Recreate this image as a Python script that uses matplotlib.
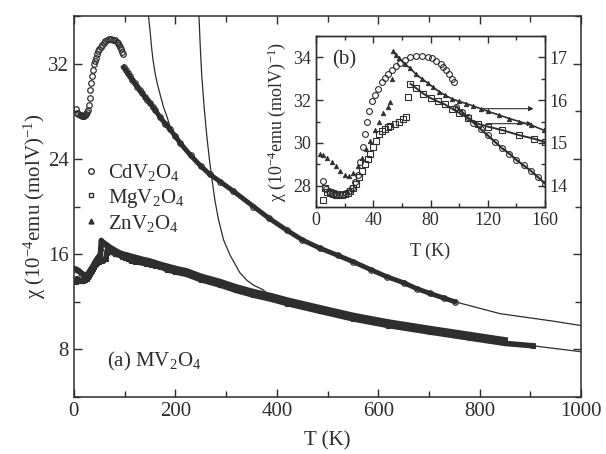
import numpy as np
import matplotlib
matplotlib.use("Agg")
import matplotlib.pyplot as plt
from matplotlib.lines import Line2D
from matplotlib.ticker import MultipleLocator

# ---- data (chi in 1e-4 emu/molV) ----
cd_T = [5, 7, 9, 11, 13, 15, 17, 19, 21, 23, 25, 27, 29, 31, 32.5, 34, 35.5, 37, 39, 41,
        43, 46, 48, 50, 53, 56, 59, 62, 66, 70, 74, 78, 81, 84, 87, 89, 91, 93, 95, 96.5,
        98, 102, 106, 110, 115, 120, 125, 130, 135, 140, 145, 150, 155, 160, 170, 180,
        189, 200, 210, 230, 250, 268, 288, 314, 354, 385, 420, 450, 485, 520, 551, 585,
        617, 650, 676, 702, 730, 751]
cd_chi = [28.2, 27.85, 27.75, 27.7, 27.65, 27.6, 27.6, 27.62, 27.65, 27.75, 27.9, 28.15,
          28.5, 29.1, 29.8, 30.4, 31.0, 31.5, 31.95, 32.25, 32.5, 32.85, 33.05, 33.2, 33.4,
          33.6, 33.75, 33.88, 34.0, 34.05, 34.05, 34.0, 33.95, 33.85, 33.7, 33.55, 33.4,
          33.2, 33.0, 32.85,
          31.7, 31.45, 31.2, 30.95, 30.65, 30.35, 30.05, 29.75, 29.5, 29.2, 28.95, 28.7,
          28.4, 28.1, 27.5, 26.95, 26.5, 25.9, 25.3, 24.3, 23.4, 22.7, 22.1, 21.3, 20.0,
          19.0, 18.0, 17.2, 16.5, 15.9, 15.35, 14.7, 14.1, 13.6, 13.1, 12.7, 12.3, 12.0]

mg_T = [5, 6, 8, 10, 12, 14, 16, 18, 20, 22, 24, 26, 28, 30, 32, 34, 36, 38, 40, 42, 44,
        46, 48, 50, 52, 55, 58, 61, 63, 64.5, 66, 70, 75, 80, 85, 90, 95, 100, 106, 113,
        120, 130, 142, 152, 160, 170, 183, 200, 222, 250, 288, 320, 354, 390, 420, 485,
        551, 620, 702, 780, 850, 905]
mg_chi = [13.67, 13.95, 13.85, 13.82, 13.8, 13.78, 13.78, 13.78, 13.8, 13.83, 13.88, 13.95,
          14.05, 14.2, 14.35, 14.5, 14.62, 14.75, 14.9, 15.05, 15.2, 15.27, 15.32, 15.36,
          15.4, 15.45, 15.5, 15.55, 15.6, 16.08, 16.38, 16.28, 16.15, 16.05, 15.97, 15.9,
          15.8, 15.7, 15.58, 15.45, 15.38, 15.3, 15.18, 15.1, 15.02, 14.95, 14.7, 14.5,
          14.3, 13.85, 13.4, 12.95, 12.55, 12.2, 11.85, 11.2, 10.55, 10.0, 9.45, 8.95,
          8.5, 8.3]

zn_T = [3, 5, 8, 11, 14, 17, 20, 23, 26, 29, 32, 35, 38, 41, 44, 47, 50, 52, 53, 54, 56,
        58, 62, 66, 70, 74, 78, 82, 86, 90, 95, 100, 105, 110, 115, 120, 128, 135, 142,
        150, 159, 170, 183, 200, 222, 250, 288, 320, 354, 390, 420, 485, 551, 620, 702,
        780, 850]
zn_chi = [14.75, 14.72, 14.65, 14.55, 14.45, 14.35, 14.25, 14.22, 14.3, 14.45, 14.65,
          14.85, 15.05, 15.3, 15.5, 15.7, 15.85, 15.95, 16.5, 17.15, 17.05, 16.98, 16.85,
          16.74, 16.6, 16.5, 16.4, 16.3, 16.2, 16.12, 16.03, 15.97, 15.92, 15.86, 15.8,
          15.74, 15.65, 15.57, 15.5, 15.42, 15.3, 15.15, 15.0, 14.8, 14.6, 14.15, 13.7,
          13.25, 12.85, 12.5, 12.15, 11.5, 10.85, 10.3, 9.75, 9.25, 8.8]

# thin fit curves
fit1_T = [147, 150, 153, 156, 160, 165, 170, 177, 183, 189, 200, 230, 268, 314, 354, 420,
          485, 551, 617, 676, 751, 840, 940, 1000]
fit1_chi = [36.0, 34.8, 33.4, 32.3, 31.2, 30.2, 29.4, 28.3, 27.6, 26.8, 25.9, 24.2, 22.6,
            21.2, 19.95, 18.0, 16.45, 15.3, 14.1, 13.1, 12.0, 11.0, 10.4, 10.0]
fit2_T = [246.5, 249, 252, 257, 262, 267, 271.5, 278, 285, 295, 308, 327, 341, 354, 373,
          386, 420, 485, 551, 620, 702, 800, 905, 1000]
fit2_chi = [36.0, 33.5, 31.0, 28.2, 25.9, 24.0, 22.5, 20.5, 18.9, 17.2, 15.9, 14.45, 13.8,
            13.4, 13.0, 12.5, 12.0, 11.3, 10.7, 10.1, 9.6, 8.9, 8.3, 7.8]

# arrows in inset (T start, T end, chi on left scale)
arrow_T0 = [115, 117]
arrow_T1 = [154, 153]
arrow_chi = [31.6, 30.9]

# ---- style ----
plt.rcParams["font.family"] = ["Liberation Serif", "DejaVu Serif"]
plt.rcParams["mathtext.fontset"] = "custom"
plt.rcParams["mathtext.rm"] = "Liberation Serif"
plt.rcParams["mathtext.it"] = "Liberation Serif:italic"
plt.rcParams["xtick.direction"] = "in"
plt.rcParams["ytick.direction"] = "in"
ink = "#2e2e2e"

cd_T = np.array(cd_T); cd_chi = np.array(cd_chi)
mg_T = np.array(mg_T); mg_chi = np.array(mg_chi)
zn_T = np.array(zn_T); zn_chi = np.array(zn_chi)
lo = cd_T < 97.5
mg_hi = mg_T >= 66
zn_hi = zn_T >= 54

fig = plt.figure(figsize=(6.06, 4.54), dpi=100)
ax = fig.add_axes([0.122, 0.1256, 0.837, 0.839])

# main panel
ax.plot(fit1_T, fit1_chi, color=ink, lw=0.9, zorder=3)
ax.plot(fit2_T, fit2_chi, color=ink, lw=0.9, zorder=3)
ax.plot(cd_T[lo], cd_chi[lo], ls="none", marker="o", ms=4, mfc="none", mec=ink, mew=0.9)
ax.plot(cd_T[~lo], cd_chi[~lo], color=ink, lw=3.5)
ax.plot(cd_T[~lo], cd_chi[~lo], ls="none", marker="o", ms=4, mfc="none", mec=ink, mew=0.8)
ax.plot(mg_T, mg_chi, color=ink, lw=4)
ax.plot(mg_T, mg_chi, ls="none", marker="s", ms=3.5, mfc="none", mec=ink, mew=0.8)
ax.plot(zn_T, zn_chi, color=ink, lw=4)
ax.plot(zn_T, zn_chi, ls="none", marker="^", ms=3.5, mfc="none", mec=ink, mew=0.8)

ax.set_xlim(0, 1000)
ax.set_ylim(4, 36)
ax.xaxis.set_major_locator(MultipleLocator(200))
ax.xaxis.set_minor_locator(MultipleLocator(100))
ax.yaxis.set_major_locator(MultipleLocator(8))
ax.yaxis.set_minor_locator(MultipleLocator(4))
ax.tick_params(which="both", top=True, right=True, labelsize=15, colors=ink, width=1)
ax.tick_params(which="major", length=6)
ax.tick_params(which="minor", length=4)
for s in ax.spines.values():
    s.set_linewidth(1.1)
    s.set_color(ink)
ax.set_xlabel("T (K)", fontsize=15, color=ink)
ax.xaxis.set_label_coords(0.5, -0.09)
ax.set_ylabel("χ (10$^{-4}$emu (molV)$^{-1}$)", fontsize=15, color=ink)
ax.yaxis.set_label_coords(-0.052, 0.5)

handles = [Line2D([], [], ls="none", marker="o", ms=4, mfc="none", mec=ink),
           Line2D([], [], ls="none", marker="s", ms=3.5, mfc="none", mec=ink),
           Line2D([], [], ls="none", marker="^", ms=3.5, mfc=ink, mec=ink)]
labels = ["CdV$_{2}$O$_{4}$", "MgV$_{2}$O$_{4}$", "ZnV$_{2}$O$_{4}$"]
ax.legend(handles, labels, loc="upper left", bbox_to_anchor=(0.005, 0.632), frameon=False,
          fontsize=15, handlelength=0.8, handletextpad=0.4, labelspacing=0.15,
          borderpad=0, borderaxespad=0.3, labelcolor=ink)
ax.text(0.065, 0.092, "(a) MV$_{2}$O$_{4}$", transform=ax.transAxes, fontsize=15,
        color=ink, va="center")

# inset
axi = fig.add_axes([0.5215, 0.544, 0.3779, 0.3767])
axi.set_zorder(5)
axr = axi.twinx()
axr.set_zorder(6)
axr.patch.set_visible(False)
axi.plot(cd_T, cd_chi, ls="none", marker="o", ms=4.2, mfc="none", mec=ink, mew=0.8)
axi.plot(cd_T[~lo], cd_chi[~lo], color=ink, lw=1.6)
axr.plot(mg_T, mg_chi, ls="none", marker="s", ms=3.8, mfc="none", mec=ink, mew=0.8)
axr.plot(mg_T[mg_hi], mg_chi[mg_hi], color=ink, lw=1.4)
axr.plot(zn_T, zn_chi, ls="none", marker="^", ms=3.2, mfc=ink, mec=ink, mew=0.6)
axr.plot(zn_T[zn_hi], zn_chi[zn_hi], color=ink, lw=1.2)
for t0, t1, c in zip(arrow_T0, arrow_T1, arrow_chi):
    axi.annotate("", xy=(t1, c), xytext=(t0, c),
                 arrowprops=dict(arrowstyle="-|>", color=ink, lw=0.8, mutation_scale=7))

axi.set_xlim(0, 160)
axi.set_ylim(27, 35)
axr.set_ylim(13.5, 17.5)
axi.xaxis.set_major_locator(MultipleLocator(40))
axi.xaxis.set_minor_locator(MultipleLocator(20))
axi.yaxis.set_major_locator(MultipleLocator(2))
axi.yaxis.set_minor_locator(MultipleLocator(1))
axr.yaxis.set_major_locator(MultipleLocator(1))
axr.yaxis.set_minor_locator(MultipleLocator(0.5))
axi.tick_params(which="both", top=True, labelsize=13, colors=ink, width=1)
axr.tick_params(which="both", labelsize=13, colors=ink, width=1)
for a in (axi, axr):
    a.tick_params(which="major", length=5)
    a.tick_params(which="minor", length=3)
    for s in a.spines.values():
        s.set_linewidth(1.0)
        s.set_color(ink)
axi.set_xlabel("T (K)", fontsize=13, color=ink)
axi.xaxis.set_label_coords(0.5, -0.21)
axi.set_ylabel("χ (10$^{-4}$emu (molV)$^{-1}$)", fontsize=13, color=ink)
axi.yaxis.set_label_coords(-0.122, 0.5)
axi.text(0.07, 0.86, "(b)", transform=axi.transAxes, fontsize=15, color=ink, va="center")

fig.savefig("out.png", dpi=100, facecolor="white")
